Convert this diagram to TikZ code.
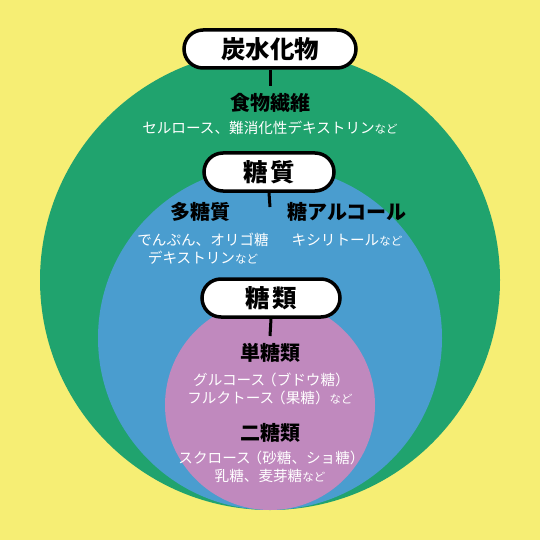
\documentclass[tikz,border=0pt]{standalone}
\usepackage{fontspec}
\setmainfont{Noto Sans CJK JP}
\usepackage{xcolor}
\usepackage{tikz}
\usetikzlibrary{positioning}
\definecolor{bgyellow}{HTML}{F6EE74}
\definecolor{fibgreen}{HTML}{20A36E}
\definecolor{sugblue}{HTML}{4A9DCF}
\definecolor{sacpink}{HTML}{C089BE}
\newcommand{\nado}{{\fontsize{11.5}{11.5}\selectfont など}}
\newcommand{\lpar}{\kern-3pt（}
\newcommand{\rpar}{）\kern-3pt}

\begin{document}
\begin{tikzpicture}[x=1pt,y=-1pt,
    pill/.style={rectangle,draw,line width=3.5pt,fill=white,rounded corners=19pt,
                 minimum height=38pt,inner sep=0pt,font=\fontsize{24.5}{24.5}\selectfont\bfseries},
    head/.style={inner sep=0pt,font=\fontsize{20}{20}\selectfont\bfseries},
    note/.style={inner sep=0pt,align=center,text=white,font=\fontsize{14.6}{18}\selectfont},
    tick/.style={line width=3pt}
]
\fill[bgyellow] (0,0) rectangle (540,540);
\useasboundingbox (0,0) rectangle (540,540);

\fill[fibgreen] (270,280) circle[radius=230pt];
\fill[sugblue] (270,338) circle[radius=172pt];
\fill[sacpink] (270,405) circle[radius=105pt];

\coordinate (carbtick) at (270,86);
\coordinate (sugtick) at (270,207);
\coordinate (sactick) at (270,336);

\node[pill,minimum width=172pt] (carb) at (270,49) {炭水化物};
\draw[tick] (carb.south) -- (carbtick);
\node[head] (fiber) at (270,103) {食物繊維};
\node[note] (fibernote) at (270,128) {セルロース、難消化性デキストリン\nado};

\node[pill,minimum width=130pt] (sug) at (269,172) {糖\hspace{3pt}質};
\draw[tick] (sug.south) -- (sugtick);
\node[head] (poly) at (200,212) {多糖質};
\node[head] (alc) at (347,212) {糖アルコール};
\node[note] (polynote) at (203,248.5) {でんぷん、オリゴ糖\\デキストリン\nado};
\node[note] (alcnote) at (347,240) {キシリトール\nado};

\node[pill,minimum width=138pt] (sac) at (271,298) {糖\hspace{3pt}類};
\draw[tick] (sac.south) -- (sactick);
\node[head] (mono) at (270,353) {単糖類};
\node[note] (mononote) at (270,389) {グルコース\lpar ブドウ糖\rpar\\フルクトース\lpar 果糖）\nado};
\node[head] (di) at (270,433) {二糖類};
\node[note] (dinote) at (270,467) {スクロース\lpar 砂糖、ショ糖\rpar\\乳糖、麦芽糖\nado};
\end{tikzpicture}
\end{document}
